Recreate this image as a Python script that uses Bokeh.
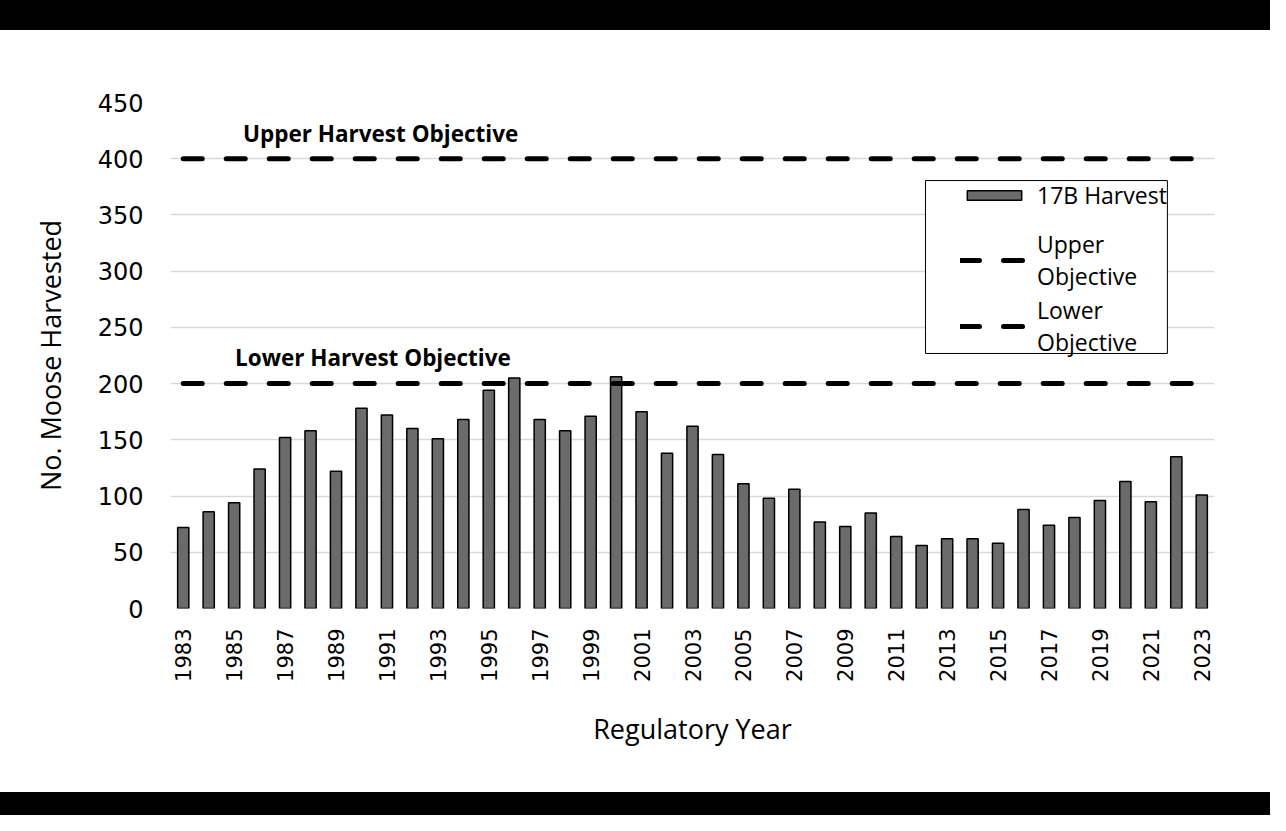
import math
from bokeh.plotting import figure
from bokeh.models import (Range1d, FixedTicker, Label, Legend, LegendItem,
                          Spacer, BoxAnnotation)
from bokeh.layouts import column
from bokeh.embed import file_html
from bokeh.resources import INLINE

# ---- data ----
years = list(range(1983, 2024))
harvest = [72, 86, 94, 124, 152, 158, 122, 178, 172, 160,
           151, 168, 194, 205, 168, 158, 171, 206, 175, 138,
           162, 137, 111, 98, 106, 77, 73, 85, 64, 56,
           62, 62, 58, 88, 74, 81, 96, 113, 95, 135,
           101]
upper_objective = 400
lower_objective = 200
x_tick_years = list(range(1983, 2024, 2))
y_ticks = [0, 50, 100, 150, 200, 250, 300, 350, 400, 450]

upper_series = [upper_objective] * len(years)
lower_series = [lower_objective] * len(years)

TITLE_FONT = "Open Sans"
TICK_FONT = "DejaVu Sans"

p = figure(width=1270, height=762,
           x_range=Range1d(1982.5, 2023.5), y_range=Range1d(0, 450),
           output_backend="svg", toolbar_location=None,
           min_border_left=170, min_border_right=56,
           min_border_top=72, min_border_bottom=184)
p.outline_line_color = None
p.background_fill_color = "white"
p.border_fill_color = "white"

p.xgrid.visible = False
p.ygrid.grid_line_color = "#d9d9d9"
p.ygrid.grid_line_width = 1.5

p.yaxis.ticker = FixedTicker(ticks=y_ticks)
p.xaxis.ticker = FixedTicker(ticks=x_tick_years)
p.xaxis.major_label_orientation = math.pi / 2

for ax in (p.xaxis[0], p.yaxis[0]):
    ax.axis_line_color = None
    ax.major_tick_line_color = None
    ax.minor_tick_line_color = None
    ax.major_label_text_font = TICK_FONT
    ax.major_label_text_color = "black"
    ax.axis_label_text_font = TITLE_FONT
    ax.axis_label_text_font_style = "normal"
    ax.axis_label_text_font_size = "27px"
    ax.axis_label_text_color = "black"

p.yaxis.major_label_text_font_size = "24px"
p.xaxis.major_label_text_font_size = "21px"
p.yaxis.major_label_standoff = 21
p.xaxis.major_label_standoff = 14
p.xaxis.axis_label = "Regulatory Year"
p.yaxis.axis_label = "No. Moose Harvested"
p.xaxis.axis_label_standoff = 25
p.yaxis.axis_label_standoff = 26

bars = p.vbar(x=years, top=harvest, width=0.44,
              fill_color="#6b6b6b", line_color="black", line_width=1.5)
up = p.line(x=years, y=upper_series, line_color="black", line_width=5,
            line_dash="19 24", line_cap="round")
low = p.line(x=years, y=lower_series, line_color="black", line_width=5,
             line_dash="19 24", line_cap="round")

p.add_layout(Label(x=1990.75, y=422, text="Upper Harvest Objective",
                   text_align="center", text_baseline="middle",
                   text_font=TITLE_FONT, text_font_style="bold",
                   text_font_size="22.5px", text_color="black"))
p.add_layout(Label(x=1990.45, y=223, text="Lower Harvest Objective",
                   text_align="center", text_baseline="middle",
                   text_font=TITLE_FONT, text_font_style="bold",
                   text_font_size="22.5px", text_color="black"))

# legend frame
p.add_layout(BoxAnnotation(left=2012.15, right=2021.65, top=380.6, bottom=226.8,
                           fill_color="white", fill_alpha=1,
                           line_color="black", line_width=1, line_alpha=1))

legend = Legend(items=[
    LegendItem(label="17B Harvest", renderers=[bars]),
    LegendItem(label="Upper\nObjective", renderers=[up]),
    LegendItem(label="Lower\nObjective", renderers=[low]),
], location=(790, 250))
legend.border_line_color = None
legend.background_fill_alpha = 0
legend.label_text_font = TITLE_FONT
legend.label_text_font_size = "23px"
legend.label_text_color = "black"
legend.glyph_width = 68
legend.glyph_height = 12
legend.label_standoff = 9
legend.label_height = 63
legend.padding = 0
legend.spacing = 2
legend.margin = 0
p.add_layout(legend)

top_band = Spacer(width=1270, height=30, styles={"background-color": "black"})
bottom_band = Spacer(width=1270, height=23, styles={"background-color": "black"})
layout = column(top_band, p, bottom_band)

open("out.html", "w").write(file_html(layout, INLINE))
